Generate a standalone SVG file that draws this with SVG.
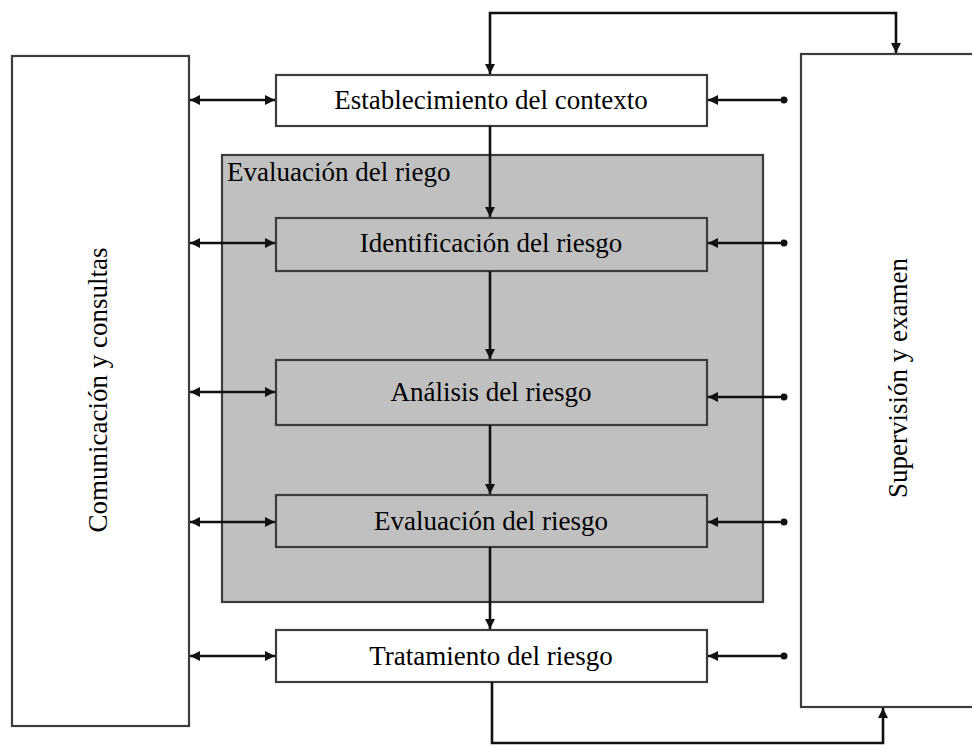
<svg xmlns="http://www.w3.org/2000/svg" width="972" height="745" viewBox="0 0 972 745">
<defs>
<style>
.box{fill:#fff;stroke:#3c3c3c;stroke-width:2.2}
.gbox{fill:#c0c0c0;stroke:#3c3c3c;stroke-width:2.2}
.ibox{fill:#c0c0c0;stroke:#3c3c3c;stroke-width:2.2}
.c{fill:none;stroke:#111;stroke-width:2.6}
.t{font-family:"Liberation Serif","Times New Roman",serif;font-size:27px;fill:#000}
.m{text-anchor:middle}
</style>
<marker id="ah" viewBox="0 0 10 10" refX="10" refY="5" markerWidth="12" markerHeight="10" markerUnits="userSpaceOnUse" orient="auto-start-reverse">
<path d="M0,0 L10,5 L0,10 Z" fill="#111"/>
</marker>
<marker id="dot" viewBox="0 0 10 10" refX="5" refY="5" markerWidth="7" markerHeight="9" markerUnits="userSpaceOnUse" orient="auto">
<ellipse cx="5" cy="5" rx="5" ry="5" fill="#111"/>
</marker>
</defs>
<rect width="972" height="745" fill="#fff"/>

<g id="comunicacion">
<rect class="box" x="12" y="56" width="177" height="670"/>
<text class="t m" transform="translate(107,390) rotate(-90)">Comunicación y consultas</text>
</g>
<g id="supervision">
<rect class="box" x="801" y="54" width="180" height="653"/>
<text class="t m" transform="translate(907,378) rotate(-90)">Supervisión y examen</text>
</g>
<g id="evaluacion-grupo">
<rect class="gbox" x="222" y="155" width="541" height="447"/>
<text class="t" x="227" y="181">Evaluación del riego</text>
</g>
<g id="establecimiento">
<rect class="box" x="276" y="75" width="431" height="51"/>
<text class="t m" x="491" y="109">Establecimiento del contexto</text>
</g>
<g id="identificacion">
<rect class="ibox" x="276" y="218" width="431" height="53"/>
<text class="t m" x="491" y="252">Identificación del riesgo</text>
</g>
<g id="analisis">
<rect class="ibox" x="276" y="360" width="431" height="65"/>
<text class="t m" x="491" y="401">Análisis del riesgo</text>
</g>
<g id="evaluacion">
<rect class="ibox" x="276" y="495" width="431" height="52"/>
<text class="t m" x="491" y="530">Evaluación del riesgo</text>
</g>
<g id="tratamiento">
<rect class="box" x="276" y="630" width="431" height="52"/>
<text class="t m" x="491" y="665">Tratamiento del riesgo</text>
</g>

<g id="connectors">
<line class="c" x1="190" y1="100" x2="275" y2="100" marker-start="url(#ah)" marker-end="url(#ah)"/>
<line class="c" x1="190" y1="243" x2="275" y2="243" marker-start="url(#ah)" marker-end="url(#ah)"/>
<line class="c" x1="190" y1="392" x2="275" y2="392" marker-start="url(#ah)" marker-end="url(#ah)"/>
<line class="c" x1="190" y1="522" x2="275" y2="522" marker-start="url(#ah)" marker-end="url(#ah)"/>
<line class="c" x1="190" y1="656" x2="275" y2="656" marker-start="url(#ah)" marker-end="url(#ah)"/>
<line class="c" x1="708" y1="100" x2="784" y2="100" marker-start="url(#ah)" marker-end="url(#dot)"/>
<line class="c" x1="708" y1="243" x2="784" y2="243" marker-start="url(#ah)" marker-end="url(#dot)"/>
<line class="c" x1="708" y1="397" x2="784" y2="397" marker-start="url(#ah)" marker-end="url(#dot)"/>
<line class="c" x1="708" y1="522" x2="784" y2="522" marker-start="url(#ah)" marker-end="url(#dot)"/>
<line class="c" x1="708" y1="656" x2="784" y2="656" marker-start="url(#ah)" marker-end="url(#dot)"/>
<line class="c" x1="490" y1="126" x2="490" y2="217" marker-end="url(#ah)"/>
<line class="c" x1="490" y1="271" x2="490" y2="359" marker-end="url(#ah)"/>
<line class="c" x1="490" y1="425" x2="490" y2="494" marker-end="url(#ah)"/>
<line class="c" x1="490" y1="547" x2="490" y2="629" marker-end="url(#ah)"/>
<path class="c" d="M896,53 L896,13 L490,13 L490,74" marker-start="url(#ah)" marker-end="url(#ah)"/>
<path class="c" d="M492,682 L492,743 L883,743 L883,708" marker-end="url(#ah)"/>
</g>
</svg>
